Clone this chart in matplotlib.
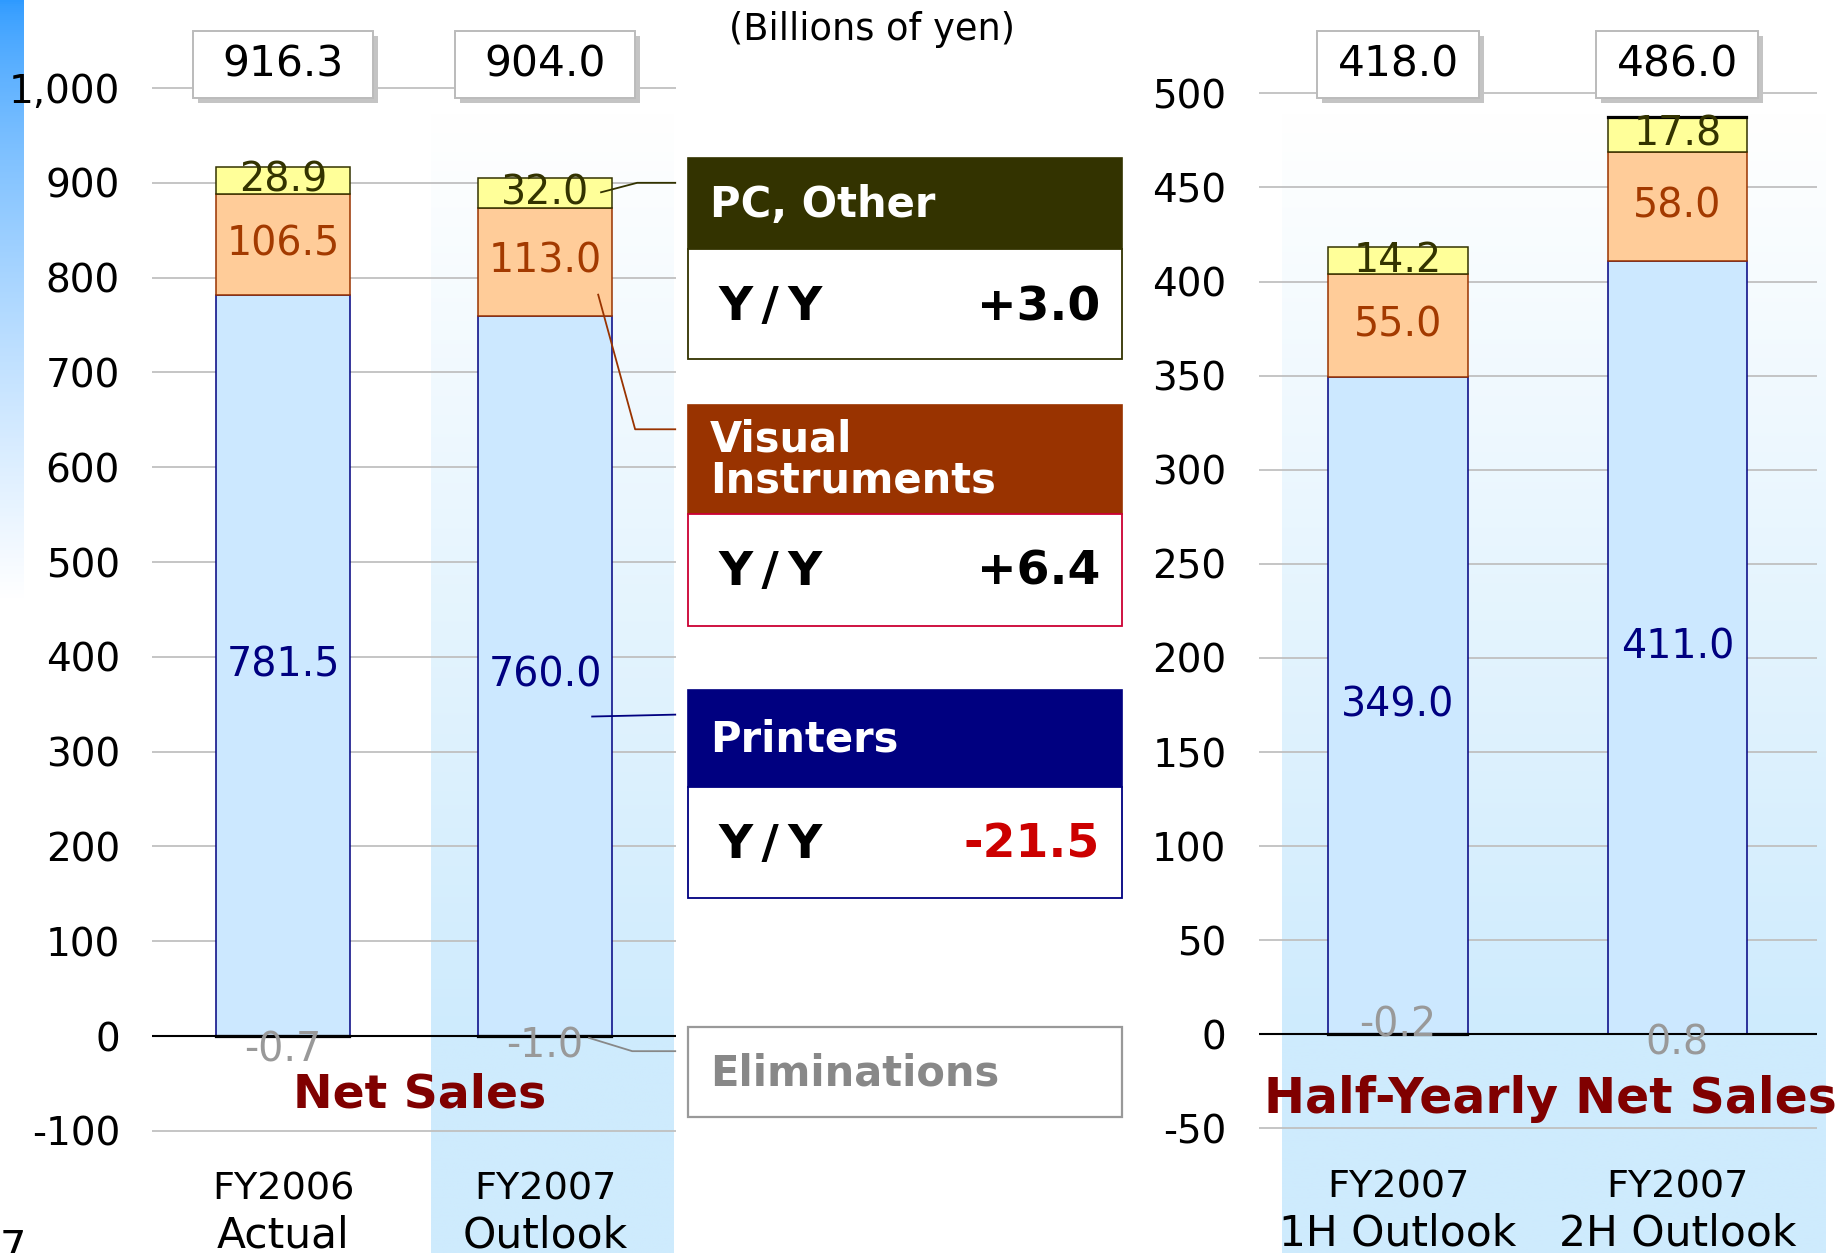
import numpy as np
import matplotlib
matplotlib.use("Agg")
import matplotlib.pyplot as plt
from matplotlib.patches import Rectangle
from matplotlib.colors import to_rgb
from matplotlib.ticker import FuncFormatter
from matplotlib.transforms import offset_copy

# Net sales by segment, billions of yen
annual_labels = ["FY2006\nActual", "FY2007\nOutlook"]
annual_printers = [781.5, 760.0]
annual_visual = [106.5, 113.0]
annual_pc = [28.9, 32.0]
annual_elim = [-0.7, -1.0]
annual_total = [916.3, 904.0]

half_labels = ["FY2007\n1H Outlook", "FY2007\n2H Outlook"]
half_printers = [349.0, 411.0]
half_visual = [55.0, 58.0]
half_pc = [14.2, 17.8]
half_elim = [-0.2, 0.8]
half_total = [418.0, 486.0]

segment_names = ["PC, Other", "Visual\nInstruments", "Printers"]
segment_yoy = [3.0, 6.4, -21.5]

annual_ticks = list(range(-100, 1001, 100))
half_ticks = list(range(-50, 501, 50))

W, H = 1842, 1253
PRN_FILL, PRN_EDGE = "#CCE8FF", "#000080"
VIS_FILL, VIS_EDGE = "#FFCC99", "#993300"
PC_FILL, PC_EDGE = "#FFFF99", "#333300"
GRID = "#C0C0C0"
TITLE_RED = "#800000"

fig = plt.figure(figsize=(W / 100, H / 100), dpi=100)
fig.patch.set_facecolor("white")


def fx(px):
    return px / W


def fy(py):
    return 1 - py / H


# blue strip on the left edge
strip = fig.add_axes([0, fy(600), fx(23), 600 / H])
t = (np.linspace(0, 1, 300) ** 0.7)[:, None, None]
top = np.array(to_rgb("#2E9AFF"))
strip.imshow(top * (1 - t) + np.ones(3) * t, aspect="auto", extent=(0, 1, 0, 1))
strip.axis("off")


def draw_panel(ax, labels, printers, visual, pc, elim, total, ticks, zero_px, upp, bar_w,
               box_w, shade_x, elim_dy, title, title_x, title_dy, title_size, fmt):
    ylo = -(H - zero_px) * upp
    yhi = zero_px * upp
    x = np.arange(len(labels))

    # gradient band behind the outlook bars
    rows = np.linspace(113, H, 400)
    tt = np.clip((rows - 113) / (zero_px - 113), 0, 1)[:, None, None]
    band = np.ones(3) * (1 - tt) + np.array(to_rgb("#CEEBFD")) * tt
    im = ax.imshow(band, aspect="auto", origin="upper", zorder=0,
                   extent=(shade_x[0], shade_x[1], ylo, (zero_px - 113) * upp))
    im.set_clip_on(False)

    printers = np.array(printers)
    visual = np.array(visual)
    pc = np.array(pc)
    elim = np.array(elim)

    ax.bar(x, printers, bar_w, color=PRN_FILL, edgecolor=PRN_EDGE, lw=1.1, zorder=2)
    ax.bar(x, visual, bar_w, bottom=printers, color=VIS_FILL, edgecolor=VIS_EDGE, lw=1.1, zorder=2)
    ax.bar(x, pc, bar_w, bottom=printers + visual, color=PC_FILL, edgecolor=PC_EDGE, lw=1.1, zorder=2)
    stack_top = printers + visual + pc
    elim_base = np.where(elim > 0, stack_top, 0)
    ax.bar(x, elim, bar_w, bottom=elim_base, color="black", edgecolor="black", lw=1.6, zorder=3)

    ax.axhline(0, color="black", lw=1.5, zorder=2.5)

    for i in range(len(x)):
        ax.text(x[i], printers[i] / 2, f"{printers[i]:.1f}", ha="center", va="center",
                fontsize=28.5, color=PRN_EDGE, zorder=4)
        ax.text(x[i], printers[i] + visual[i] / 2, f"{visual[i]:.1f}", ha="center", va="center",
                fontsize=28.5, color="#A33A00", zorder=4)
        ax.text(x[i], stack_top[i] - pc[i] / 2, f"{pc[i]:.1f}", ha="center", va="center",
                fontsize=28.5, color=PC_EDGE, zorder=4)
        ax.text(x[i], elim_dy[i] * upp, f"{elim[i]:.1f}", ha="center", va="center",
                fontsize=28.5, color="#999999", zorder=4)

        # total box with drop shadow
        b0, b1 = (zero_px - 98) * upp, (zero_px - 31) * upp
        sh = offset_copy(ax.transData, fig=fig, x=5, y=-5, units="dots")
        ax.add_patch(Rectangle((x[i] - box_w / 2, b0), box_w, b1 - b0, transform=sh,
                               facecolor="#C4C4C4", edgecolor="none", zorder=5, clip_on=False))
        ax.add_patch(Rectangle((x[i] - box_w / 2, b0), box_w, b1 - b0, facecolor="white",
                               edgecolor="#BBBBBB", lw=1.4, zorder=6, clip_on=False))
        ax.text(x[i], (b0 + b1) / 2, f"{total[i]:.1f}", ha="center", va="center",
                fontsize=30.5, color="black", zorder=7)

        line1, line2 = labels[i].split("\n")
        ax.text(x[i], -153 * upp, line1, ha="center", va="center", fontsize=27.5, clip_on=False)
        ax.text(x[i], -199 * upp, line2, ha="center", va="center", fontsize=30.5, clip_on=False)

    ax.text(title_x, -title_dy * upp, title, ha="center", va="baseline", fontsize=title_size,
            fontweight="bold", color=TITLE_RED, zorder=8, clip_on=False)

    ax.set_xlim(-0.5, 1.5)
    ax.set_ylim(ylo, yhi)
    ax.set_yticks(ticks)
    ax.yaxis.set_major_formatter(FuncFormatter(fmt))
    ax.yaxis.grid(True, color=GRID, lw=1.3)
    ax.set_axisbelow(True)
    ax.set_xticks([])
    ax.tick_params(axis="y", length=0, pad=23, labelsize=28)
    for s in ax.spines.values():
        s.set_visible(False)
    ax.set_facecolor("none")


ax1 = fig.add_axes([fx(152), 0, fx(676) - fx(152), 1])
draw_panel(ax1, annual_labels, annual_printers, annual_visual, annual_pc, annual_elim,
           annual_total, annual_ticks, zero_px=1036, upp=1 / 0.948, bar_w=0.51, box_w=0.69,
           shade_x=(0.565, 1.49), elim_dy=[-14, -10], title="Net Sales", title_x=0.52,
           title_dy=71, title_size=34, fmt=lambda v, p: f"{v:,.0f}")

ax2 = fig.add_axes([fx(1258.5), 0, fx(1817) - fx(1258.5), 1])
draw_panel(ax2, half_labels, half_printers, half_visual, half_pc, half_elim,
           half_total, half_ticks, zero_px=1034.3, upp=1 / 1.882, bar_w=0.5, box_w=0.58,
           shade_x=(-0.417, 1.529), elim_dy=[9, -9], title="Half-Yearly Net Sales",
           title_x=0.545, title_dy=79, title_size=35.2, fmt=lambda v, p: f"{v:.0f}")

# leader lines from the FY2007 outlook bar to the segment boxes
leaders = [
    ([1.214, 1.352, 1.497], [890, 900, 900], PC_EDGE),
    ([1.203, 1.344, 1.497], [782, 640, 640], VIS_EDGE),
    ([1.18, 1.497], [337, 339], PRN_EDGE),
    ([1.168, 1.333, 1.497], [-2, -16, -16], "#888888"),
]
for lx, ly, c in leaders:
    ax1.plot(lx, ly, color=c, lw=1.3, clip_on=False, zorder=5)

# segment boxes in the middle
boxes = [
    (158, 249, 359, "#333300", "#333300", [217]),
    (405, 514, 626, "#993300", "#CC0033", [452, 493]),
    (690, 787, 898, "#000080", "#000080", [751]),
]
bx0, bx1 = 688, 1122
for (h0, h1, b1, head, edge, bases), name, yoy in zip(boxes, segment_names, segment_yoy):
    fig.add_artist(Rectangle((fx(bx0), fy(h1)), fx(bx1) - fx(bx0), (h1 - h0) / H,
                             facecolor=head, edgecolor=head, lw=1.2, transform=fig.transFigure))
    fig.add_artist(Rectangle((fx(bx0), fy(b1)), fx(bx1) - fx(bx0), (b1 - h1) / H,
                             facecolor="white", edgecolor=edge, lw=1.3, transform=fig.transFigure))
    for line, base in zip(name.split("\n"), bases):
        fig.text(fx(710), fy(base), line, ha="left", va="baseline", fontsize=30,
                 fontweight="bold", color="white")
    fig.text(fx(718), fy(h1 + 71), "Y\u2009/\u2009Y", ha="left", va="baseline", fontsize=34,
             fontweight="bold", color="black")
    fig.text(fx(1100), fy(h1 + 71), f"{yoy:+.1f}", ha="right", va="baseline", fontsize=34,
             fontweight="bold", color="#CC0000" if yoy < 0 else "black")

fig.add_artist(Rectangle((fx(bx0), fy(1117)), fx(bx1) - fx(bx0), 90 / H, facecolor="white",
                         edgecolor="#999999", lw=1.6, transform=fig.transFigure))
fig.text(fx(710), fy(1085), "Eliminations", ha="left", va="baseline", fontsize=30,
         fontweight="bold", color="#888888")

fig.text(fx(872), fy(29), "(Billions of yen)", ha="center", va="center", fontsize=26.5)
fig.text(fx(0), fy(1228), "7", ha="left", va="top", fontsize=30)

fig.savefig("out.png", dpi=100)
